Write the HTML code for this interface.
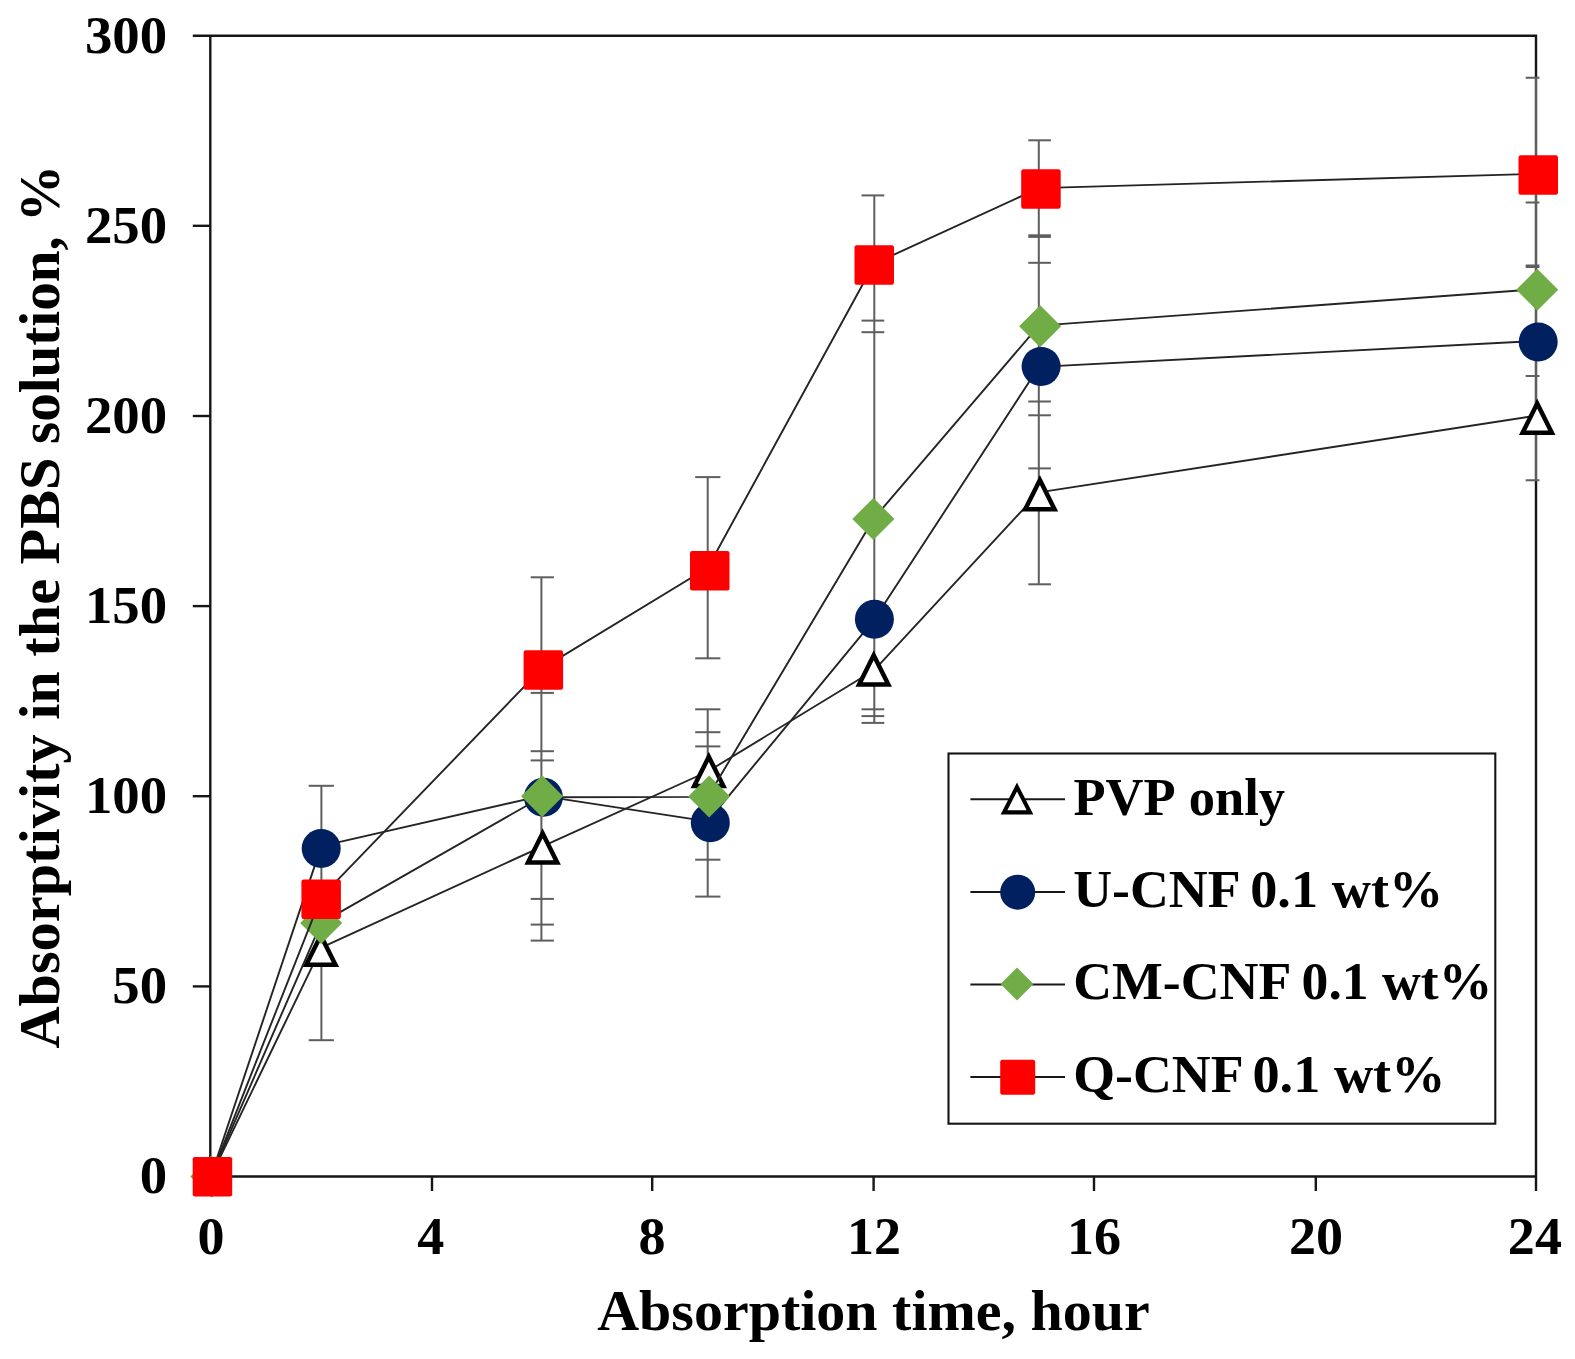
<!DOCTYPE html>
<html lang="en"><head><meta charset="utf-8"><title>Absorptivity in the PBS solution</title>
<style>
html,body{margin:0;padding:0;background:#fff;}
body{width:1575px;height:1359px;overflow:hidden;}
svg{display:block;}
text{font-family:"Liberation Serif","Times New Roman",Times,serif;font-weight:bold;fill:#000;font-kerning:none;}
.tk{font-size:52.5px;}
.ti{font-size:58px;}
.lg{font-size:52.5px;}
</style></head><body>
<svg width="1575" height="1359" viewBox="0 0 1575 1359">
<rect x="0" y="0" width="1575" height="1359" fill="#fff"/>
<g fill="none" stroke="#161616" stroke-width="2.4" stroke-linecap="butt">
<path d="M192.8 35.7 H1536.0 V1191.0"/>
<path d="M210.3 35.7 V1176.5 H1536.0"/>
<path d="M192.8 225.8 H210.3"/>
<path d="M192.8 416.0 H210.3"/>
<path d="M192.8 606.1 H210.3"/>
<path d="M192.8 796.2 H210.3"/>
<path d="M192.8 986.4 H210.3"/>
<path d="M192.8 1176.5 H210.3"/>
<path d="M210.3 1176.5 V1191.0"/>
<path d="M432.0 1176.5 V1191.0"/>
<path d="M652.2 1176.5 V1191.0"/>
<path d="M873.6 1176.5 V1191.0"/>
<path d="M1094.0 1176.5 V1191.0"/>
<path d="M1315.8 1176.5 V1191.0"/>
</g>
<g class="tk" text-anchor="end">
<text transform="translate(167.2 52.6) scale(1.045 1)">300</text>
<text transform="translate(167.2 242.7) scale(1.045 1)">250</text>
<text transform="translate(167.2 432.9) scale(1.045 1)">200</text>
<text transform="translate(167.2 623.0) scale(1.045 1)">150</text>
<text transform="translate(167.2 813.1) scale(1.045 1)">100</text>
<text transform="translate(167.2 1003.3) scale(1.045 1)">50</text>
<text transform="translate(167.2 1193.4) scale(1.045 1)">0</text>
</g>
<g class="tk" text-anchor="middle">
<text transform="translate(211.0 1254.3) scale(1.03 1)">0</text>
<text transform="translate(430.7 1254.3) scale(1.03 1)">4</text>
<text transform="translate(652.0 1254.3) scale(1.03 1)">8</text>
<text transform="translate(874.0 1254.3) scale(1.03 1)">12</text>
<text transform="translate(1094.0 1254.3) scale(1.03 1)">16</text>
<text transform="translate(1316.0 1254.3) scale(1.03 1)">20</text>
<text transform="translate(1534.9 1254.3) scale(1.03 1)">24</text>
</g>
<text class="ti" text-anchor="middle" x="873.5" y="1330.2">Absorption time, hour</text>
<g class="ti" transform="translate(58.6 1048.6) rotate(-90)">
<text transform="scale(1.0053 1)">Absorptivity in the PBS</text>
<text text-anchor="end" transform="translate(883.8 0) scale(0.9848 1)">solution, %</text>
</g>
<clipPath id="cp"><rect x="0" y="0" width="1539.4" height="1359"/></clipPath>
<g fill="none" stroke="#5e5e5e" stroke-width="2" clip-path="url(#cp)">
<path d="M321.4 785.8 V1040.2"/>
<path d="M308.7 785.8 H333.9"/>
<path d="M308.7 1040.2 H333.9"/>
<path d="M541.4 577.3 V940.6"/>
<path d="M530.7 577.3 H553.9"/>
<path d="M530.7 692.9 H553.9"/>
<path d="M530.7 751.2 H553.9"/>
<path d="M530.7 760.4 H553.9"/>
<path d="M530.7 898.9 H553.9"/>
<path d="M530.7 924.6 H553.9"/>
<path d="M530.7 940.6 H553.9"/>
<path d="M707.7 477.1 V658.3"/>
<path d="M707.7 709.3 V896.6"/>
<path d="M695.2 477.1 H720.4"/>
<path d="M695.2 658.3 H720.4"/>
<path d="M695.2 709.3 H720.4"/>
<path d="M695.2 732.2 H720.4"/>
<path d="M695.2 746.4 H720.4"/>
<path d="M695.2 859.7 H720.4"/>
<path d="M695.2 896.6 H720.4"/>
<path d="M874.3 195.4 V722.9"/>
<path d="M861.5 195.4 H884.3"/>
<path d="M861.5 320.6 H884.3"/>
<path d="M861.5 332.2 H884.3"/>
<path d="M861.5 709.3 H884.3"/>
<path d="M861.5 716.1 H884.3"/>
<path d="M861.5 722.9 H884.3"/>
<path d="M1038.8 140.3 V584.3"/>
<path d="M1028.3 140.3 H1050.9"/>
<path d="M1028.3 235.3 H1050.9"/>
<path d="M1028.3 236.9 H1050.9"/>
<path d="M1028.3 262.8 H1050.9"/>
<path d="M1028.3 401.5 H1050.9"/>
<path d="M1028.3 415.3 H1050.9"/>
<path d="M1028.3 468.4 H1050.9"/>
<path d="M1028.3 584.3 H1050.9"/>
<path d="M1536.0 77.7 V480.2"/>
<path d="M1525.7 77.7 H1548.0"/>
<path d="M1525.7 202.5 H1548.0"/>
<path d="M1525.7 265.6 H1548.0"/>
<path d="M1525.7 267.0 H1548.0"/>
<path d="M1525.7 376.1 H1548.0"/>
<path d="M1525.7 480.2 H1548.0"/>
</g>
<polyline fill="none" stroke="#242424" stroke-width="1.9" stroke-linejoin="round" points="210.9,1176.3 321.3,947.7 541.4,846.8 707.8,771.5 874.0,670.3 1038.9,492.4 1536.0,415.7"/>
<polygon points="212.40,1163.48 227.01,1192.70 197.79,1192.70" fill="#fff" stroke="#000" stroke-width="4.50" stroke-linejoin="miter" stroke-miterlimit="10"/>
<polygon points="320.80,935.48 335.41,964.70 306.19,964.70" fill="#fff" stroke="#000" stroke-width="4.50" stroke-linejoin="miter" stroke-miterlimit="10"/>
<polygon points="542.60,833.28 557.21,862.50 527.99,862.50" fill="#fff" stroke="#000" stroke-width="4.50" stroke-linejoin="miter" stroke-miterlimit="10"/>
<polygon points="708.80,756.78 723.41,786.00 694.19,786.00" fill="#fff" stroke="#000" stroke-width="4.50" stroke-linejoin="miter" stroke-miterlimit="10"/>
<polygon points="873.70,655.28 888.31,684.50 859.09,684.50" fill="#fff" stroke="#000" stroke-width="4.50" stroke-linejoin="miter" stroke-miterlimit="10"/>
<polygon points="1039.90,479.98 1054.51,509.20 1025.29,509.20" fill="#fff" stroke="#000" stroke-width="4.50" stroke-linejoin="miter" stroke-miterlimit="10"/>
<polygon points="1537.20,403.58 1551.81,432.80 1522.59,432.80" fill="#fff" stroke="#000" stroke-width="4.50" stroke-linejoin="miter" stroke-miterlimit="10"/>
<polyline fill="none" stroke="#242424" stroke-width="1.9" stroke-linejoin="round" points="210.9,1176.3 321.3,846.1 541.4,795.9 707.8,821.4 874.0,619.8 1038.9,366.9 1536.0,341.0"/>
<circle cx="212.4" cy="1176.7" r="19.50" fill="#002060"/>
<circle cx="321.2" cy="848.5" r="19.50" fill="#002060"/>
<circle cx="543.4" cy="797.2" r="19.50" fill="#002060"/>
<circle cx="710.3" cy="822.7" r="19.50" fill="#002060"/>
<circle cx="874.4" cy="619.3" r="19.50" fill="#002060"/>
<circle cx="1041.1" cy="366.4" r="19.50" fill="#002060"/>
<circle cx="1538.2" cy="341.9" r="19.50" fill="#002060"/>
<polyline fill="none" stroke="#242424" stroke-width="1.9" stroke-linejoin="round" points="210.9,1176.3 321.3,922.9 541.4,797.2 707.8,796.9 874.0,518.3 1038.9,325.6 1536.0,289.3"/>
<polygon points="211.3,1155.4 232.3,1176.4 211.3,1197.4 190.3,1176.4" fill="#70ad47"/>
<polygon points="321.2,902.0 342.2,923.0 321.2,944.0 300.2,923.0" fill="#70ad47"/>
<polygon points="542.1,775.3 563.1,796.3 542.1,817.3 521.1,796.3" fill="#70ad47"/>
<polygon points="709.1,775.4 730.1,796.4 709.1,817.4 688.1,796.4" fill="#70ad47"/>
<polygon points="873.4,497.9 894.4,518.9 873.4,539.9 852.4,518.9" fill="#70ad47"/>
<polygon points="1040.1,305.2 1061.1,326.2 1040.1,347.2 1019.1,326.2" fill="#70ad47"/>
<polygon points="1537.2,268.8 1558.2,289.8 1537.2,310.8 1516.2,289.8" fill="#70ad47"/>
<polyline fill="none" stroke="#242424" stroke-width="1.9" stroke-linejoin="round" points="210.9,1176.3 321.3,896.8 541.4,668.9 707.8,567.7 874.0,263.8 1038.9,188.1 1536.0,173.8"/>
<rect x="192.7" y="1157.0" width="39.5" height="39.5" rx="2.2" fill="#ff0000"/>
<rect x="301.4" y="879.4" width="39.5" height="39.5" rx="2.2" fill="#ff0000"/>
<rect x="523.6" y="650.2" width="39.5" height="39.5" rx="2.2" fill="#ff0000"/>
<rect x="690.0" y="551.0" width="39.5" height="39.5" rx="2.2" fill="#ff0000"/>
<rect x="854.5" y="245.2" width="39.5" height="39.5" rx="2.2" fill="#ff0000"/>
<rect x="1021.2" y="169.2" width="39.5" height="39.5" rx="2.2" fill="#ff0000"/>
<rect x="1518.5" y="155.2" width="39.5" height="39.5" rx="2.2" fill="#ff0000"/>
<rect x="948.5" y="753.5" width="546.8" height="370.2" fill="#fff" stroke="#141414" stroke-width="2.1"/>
<path d="M970.4 799.3 H1065" fill="none" stroke="#181818" stroke-width="2"/>
<path d="M970.4 892.0 H1065" fill="none" stroke="#181818" stroke-width="2"/>
<path d="M970.4 984.4 H1065" fill="none" stroke="#181818" stroke-width="2"/>
<path d="M970.4 1077.0 H1065" fill="none" stroke="#181818" stroke-width="2"/>
<polygon points="1017.00,787.08 1029.99,812.35 1004.01,812.35" fill="#fff" stroke="#000" stroke-width="4.10" stroke-linejoin="miter" stroke-miterlimit="10"/>
<circle cx="1017.7" cy="892.2" r="17.50" fill="#002060"/>
<polygon points="1017.0,967.4 1033.5,983.9 1017.0,1000.4 1000.5,983.9" fill="#70ad47"/>
<rect x="1000.2" y="1059.7" width="35.0" height="35.0" rx="2.2" fill="#ff0000"/>
<g class="lg">
<text x="1073.5" y="814.7">PVP only</text>
<text transform="translate(1073.2 907.2) scale(1.025 1)">U-CNF</text>
<text transform="translate(1250.2 907.2) scale(1.035 1)">0.1 wt%</text>
<text transform="translate(1073.2 999.3) scale(1.025 1)">CM-CNF</text>
<text transform="translate(1301.6 999.3) scale(1.022 1)">0.1 wt%</text>
<text transform="translate(1073.2 1091.8) scale(1.025 1)">Q-CNF</text>
<text transform="translate(1252.4 1091.8) scale(1.035 1)">0.1 wt%</text>
</g>
</svg>
</body></html>
